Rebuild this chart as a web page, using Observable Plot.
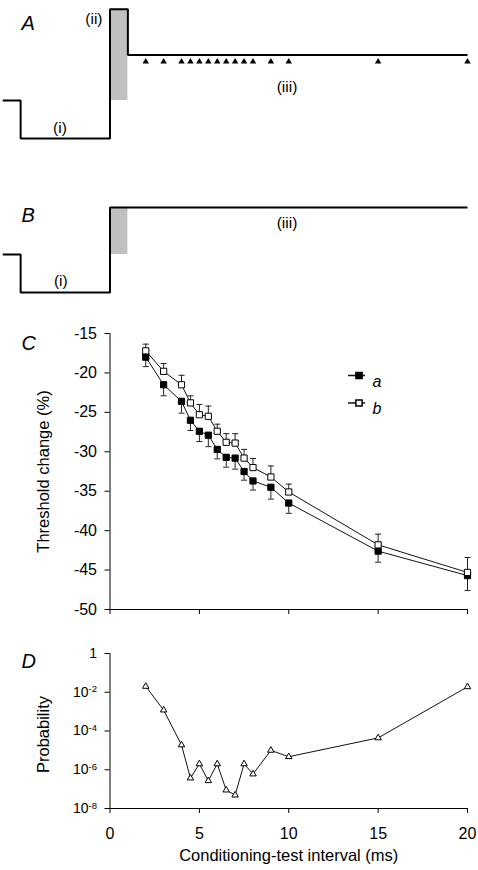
<!DOCTYPE html>
<html>
<head>
<meta charset="utf-8">
<script src="https://cdn.jsdelivr.net/npm/d3@7"></script>
<script src="https://cdn.jsdelivr.net/npm/@observablehq/plot@0.6"></script>
<style>
  html, body { margin: 0; padding: 0; background: #fff; }
  #chart { width: 478px; height: 870px; overflow: hidden; }
  #chart svg { display: block; }
</style>
</head>
<body>
<div id="chart"></div>
<script>
// ---------- data ----------
const intervals = [2, 3, 4, 4.5, 5, 5.5, 6, 6.5, 7, 7.5, 8, 9, 10, 15, 20];
const thresholdA = [-18.0, -21.5, -23.6, -26.0, -27.4, -27.9, -29.7, -30.7, -30.8, -32.5, -33.7, -34.5, -36.5, -42.6, -45.7];
const errorA     = [1.2, 1.4, 1.5, 1.3, 1.3, 1.45, 1.2, 1.25, 1.4, 1.1, 1.15, 1.5, 1.3, 1.4, 1.9];
const thresholdB = [-17.2, -19.8, -21.5, -23.8, -25.3, -25.5, -27.4, -28.8, -28.9, -30.8, -32.0, -33.2, -35.1, -41.8, -45.3];
const errorB     = [0.85, 1.0, 1.2, 0.9, 1.3, 1.3, 0.9, 1.1, 1.2, 1.1, 1.15, 1.4, 1.0, 1.35, 1.9];
const probability = [2.0e-2, 1.2e-3, 1.9e-5, 3.7e-7, 2.0e-6, 2.7e-7, 2.0e-6, 8.9e-8, 4.9e-8, 2.0e-6, 6.0e-7, 1.0e-5, 4.7e-6, 4.4e-5, 1.9e-2];

const thresholdTicks = [-15, -20, -25, -30, -35, -40, -45, -50];
const probabilityTicks = [1, 1e-2, 1e-4, 1e-6, 1e-8];
const intervalTicks = [0, 5, 10, 15, 20];

const seriesNames = ["a", "b"];
const thresholdTitle = "Threshold change (%)";
const probabilityTitle = "Probability";
const intervalTitle = "Conditioning-test interval (ms)";
const panelLetters = ["A", "B", "C", "D"];

// schematic waveforms: time (ms) and level (arbitrary units)
const waveATime  = [-6, -5, -5, 0, 0, 1, 1, 20];
const waveALevel = [0, 0, -1, -1, 2.4, 2.4, 1.2, 1.2];
const waveBTime  = [-6, -5, -5, 0, 0, 20];
const waveBLevel = [0, 0, -1, -1, 1.24, 1.24];
const pulseTime = [0, 1];
const pulseALevel = [0, 2.4];
const pulseBLevel = [0, 1.24];
const testMarkerLevel = 1.02;
const notesA = ["(i)", "(ii)", "(iii)"];
const notesATime = [-2.8, -0.9, 9.9];
const notesALevel = [-0.73, 2.15, 0.35];
const notesB = ["(i)", "(iii)"];
const notesBTime = [-2.75, 9.9];
const notesBLevel = [-0.69, 0.83];

// ---------- layout ----------
const W = 478, ML = 109.5, MR = 11;
const FONT = "'Liberation Sans', Arial, Helvetica, sans-serif";
const baseStyle = {fontFamily: FONT, fontSize: "16px", background: "white", color: "black", overflow: "visible"};

const hline = {
  draw(context, size) {
    const w = Math.sqrt(size / Math.PI);
    context.moveTo(-w, 0);
    context.lineTo(w, 0);
  }
};

function letterMark(letter, dy) {
  return Plot.text([letter], {frameAnchor: "top-left", dx: 21 - ML, dy, textAnchor: "start",
    fontStyle: "italic", fontSize: 20});
}

function schematic({time, level, pulseLevel, notes, notesTime, notesLevel, markers, height, marginTop, marginBottom, yDomain, letter, letterDy}) {
  const wave = time.map((t, i) => ({t, v: level[i]}));
  const pulse = [{t1: pulseTime[0], t2: pulseTime[1], v1: pulseLevel[0], v2: pulseLevel[1]}];
  const labels = notes.map((s, i) => ({s, t: notesTime[i], v: notesLevel[i]}));
  const marks = [
    Plot.rect(pulse, {x1: "t1", x2: "t2", y1: "v1", y2: "v2", fill: "#c0c0c0"}),
    Plot.line(wave, {x: "t", y: "v", stroke: "black", strokeWidth: 2, strokeLinejoin: "miter", strokeLinecap: "butt"}),
    Plot.text(labels, {x: "t", y: "v", text: "s", fontSize: 15.5}),
    letterMark(letter, letterDy)
  ];
  if (markers) {
    marks.push(Plot.dot(intervals, {x: d => d, y: () => testMarkerLevel, symbol: "triangle", r: 2.4, fill: "black"}));
  }
  return Plot.plot({
    width: W, height, marginLeft: ML, marginRight: MR, marginTop, marginBottom,
    style: baseStyle,
    x: {domain: [0, 20], axis: null},
    y: {domain: yDomain, axis: null},
    marks
  });
}

const rows = intervals.map((t, i) => ({
  t, a: thresholdA[i], ea: errorA[i], b: thresholdB[i], eb: errorB[i], p: probability[i]
}));

const plotA = schematic({time: waveATime, level: waveALevel, pulseLevel: pulseALevel,
  notes: notesA, notesTime: notesATime, notesLevel: notesALevel, markers: true,
  height: 160, marginTop: 5, marginBottom: 3, yDomain: [-1.5, 2.5], letter: panelLetters[0], letterDy: 10});

const plotB = schematic({time: waveBTime, level: waveBLevel, pulseLevel: pulseBLevel,
  notes: notesB, notesTime: notesBTime, notesLevel: notesBLevel, markers: false,
  height: 160, marginTop: 37, marginBottom: 9, yDomain: [-1.5, 1.5], letter: panelLetters[1], letterDy: 10});

const errColor = "#222";
const plotC = Plot.plot({
  width: W, height: 320, marginLeft: ML, marginRight: MR, marginTop: 13, marginBottom: 31,
  style: baseStyle,
  x: {domain: [0, 20], label: null},
  y: {domain: [-50, -15], label: null},
  marks: [
    Plot.axisY({ticks: thresholdTicks, tickSize: 5, tickPadding: 8, tickFormat: d => String(d), label: null, fontSize: 16}),
    Plot.axisX({ticks: intervalTicks, tickSize: 5, tickFormat: () => "", label: null}),
    Plot.ruleX([0], {stroke: "black"}),
    Plot.ruleY([-50], {stroke: "black"}),
    // series a (filled) with downward error bars
    Plot.ruleX(rows, {x: "t", y1: "a", y2: d => d.a - d.ea, stroke: errColor, strokeWidth: 1}),
    Plot.dot(rows, {x: "t", y: d => d.a - d.ea, symbol: hline, r: 3, stroke: errColor, fill: "none", strokeWidth: 1}),
    // series b (open) with upward error bars
    Plot.ruleX(rows, {x: "t", y1: "b", y2: d => d.b + d.eb, stroke: errColor, strokeWidth: 1}),
    Plot.dot(rows, {x: "t", y: d => d.b + d.eb, symbol: hline, r: 3, stroke: errColor, fill: "none", strokeWidth: 1}),
    Plot.line(rows, {x: "t", y: "a", stroke: "#111", strokeWidth: 1}),
    Plot.line(rows, {x: "t", y: "b", stroke: "#111", strokeWidth: 1}),
    Plot.dot(rows, {x: "t", y: "a", symbol: "square", r: 3.5, fill: "black", stroke: "black", strokeWidth: 1}),
    Plot.dot(rows, {x: "t", y: "b", symbol: "square", r: 3.5, fill: "white", stroke: "black", strokeWidth: 1}),
    // legend
    Plot.dot([seriesNames[0]], {frameAnchor: "top-left", dx: 246.5, dy: 42, symbol: hline, r: 8.5, stroke: "#111", fill: "none"}),
    Plot.dot([seriesNames[0]], {frameAnchor: "top-left", dx: 249, dy: 42, symbol: "square", r: 3.5, fill: "black", stroke: "black"}),
    Plot.text([seriesNames[0]], {frameAnchor: "top-left", dx: 262.5, dy: 42, text: d => d, textAnchor: "start", fontStyle: "italic", fontSize: 16}),
    Plot.dot([seriesNames[1]], {frameAnchor: "top-left", dx: 246.5, dy: 69.5, symbol: hline, r: 8.5, stroke: "#111", fill: "none"}),
    Plot.dot([seriesNames[1]], {frameAnchor: "top-left", dx: 249, dy: 69.5, symbol: "square", r: 3.5, fill: "white", stroke: "black"}),
    Plot.text([seriesNames[1]], {frameAnchor: "top-left", dx: 262.5, dy: 69.5, text: d => d, textAnchor: "start", fontStyle: "italic", fontSize: 16}),
    Plot.text([thresholdTitle], {frameAnchor: "left", textAnchor: "middle", dx: -66.5, rotate: -90, fontSize: 16.5}),
    letterMark(panelLetters[2], 2)
  ]
});

const plotD = Plot.plot({
  width: W, height: 230, marginLeft: ML, marginRight: MR, marginTop: 13, marginBottom: 62,
  style: baseStyle,
  x: {domain: [0, 20], label: null},
  y: {type: "log", domain: [1e-8, 1], label: null},
  marks: [
    Plot.axisY({ticks: probabilityTicks, tickSize: 5, tickPadding: 8, label: null, fontSize: 14,
      tickFormat: d => d === 1 ? "1" : "10^" + Math.round(Math.log10(d))}),
    Plot.axisX({ticks: intervalTicks, tickSize: 5, tickPadding: 14, tickFormat: d => String(d), label: null, fontSize: 16}),
    Plot.ruleX([0], {stroke: "black"}),
    Plot.ruleY([1e-8], {stroke: "black"}),
    Plot.line(rows, {x: "t", y: "p", stroke: "#111", strokeWidth: 1}),
    Plot.dot(rows, {x: "t", y: "p", symbol: "triangle", r: 2.4, fill: "white", stroke: "black", strokeWidth: 1}),
    Plot.text([probabilityTitle], {frameAnchor: "left", textAnchor: "middle", dx: -66.5, dy: 3.5, rotate: -90, fontSize: 16.5}),
    Plot.text([intervalTitle], {frameAnchor: "bottom", dy: 52, fontSize: 16.5}),
    letterMark(panelLetters[3], 0)
  ]
});

// superscript exponents on the log axis
d3.select(plotD).selectAll("text").each(function() {
  const m = /^10\^(-?\d+)$/.exec(this.textContent);
  if (m) {
    this.textContent = "10";
    d3.select(this).append("tspan").attr("dy", "-0.45em").attr("font-size", "0.68em").text(m[1]);
  }
});

const chart = document.getElementById("chart");
[plotA, plotB, plotC, plotD].forEach(p => chart.appendChild(p));
</script>
</body>
</html>
